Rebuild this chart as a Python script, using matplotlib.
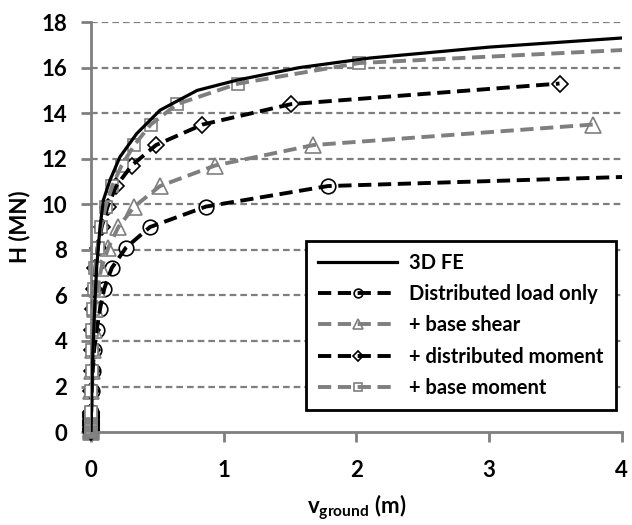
import matplotlib
matplotlib.use("Agg")
import matplotlib.pyplot as plt

# data
fe_x = [0, 0.002, 0.006, 0.015, 0.03, 0.043, 0.068, 0.093, 0.143, 0.218, 0.344, 0.52, 0.8, 1.1, 1.57, 2.1, 3.0, 4.0]
fe_y = [0, 0.6, 1.8, 3.6, 5.8, 7.26, 9.0, 10.18, 11.06, 12.08, 13.1, 14.13, 15.0, 15.45, 16.0, 16.42, 16.9, 17.3]

# first load steps, all sitting at v ~ 0
low_h = [0, 0.05, 0.1, 0.15, 0.2, 0.25, 0.3, 0.35, 0.4, 0.45, 0.5, 0.55, 0.6, 0.65, 0.7, 0.75, 0.8, 0.85, 0.9]
low_x = [0, 0, 0, 0, 0, 0, 0, 0, 0, 0, 0, 0, 0.001, 0.001, 0.001, 0.001, 0.001, 0.001, 0.001]

load_h = low_h + [1.8, 2.7, 3.6, 4.5, 5.4, 6.3, 7.2, 8.1, 9.0, 9.9, 10.8, 11.7]
load_x = low_x + [0.005, 0.013, 0.023, 0.043, 0.068, 0.10, 0.156, 0.264, 0.444, 0.866, 1.785, 6.8]

shear_h = low_h + [1.8, 2.7, 3.6, 4.5, 5.4, 6.3, 7.2, 8.1, 9.0, 9.9, 10.8, 11.7, 12.6, 13.5]
shear_x = low_x + [0.003, 0.007, 0.012, 0.02, 0.03, 0.048, 0.078, 0.131, 0.206, 0.326, 0.52, 0.934, 1.675, 3.78]

dmom_h = low_h + [1.8, 2.7, 3.6, 4.5, 5.4, 6.3, 7.2, 8.1, 9.0, 9.9, 10.8, 11.7, 12.6, 13.5, 14.4, 15.3]
dmom_x = low_x + [0.002, 0.004, 0.006, 0.01, 0.015, 0.022, 0.033, 0.05, 0.08, 0.125, 0.19, 0.306, 0.49, 0.84, 1.51, 3.53]

bmom_h = low_h + [1.8, 2.7, 3.6, 4.5, 5.4, 6.3, 7.2, 8.1, 9.0, 9.9, 10.8, 11.7, 12.6, 13.5, 14.4, 15.3, 16.2, 17.1]
bmom_x = low_x + [0.002, 0.004, 0.006, 0.01, 0.015, 0.022, 0.033, 0.05, 0.075, 0.11, 0.16, 0.23, 0.326, 0.45, 0.65, 1.11, 2.02, 5.15]

labels = ['3D FE', 'Distributed load only', '+ base shear', '+ distributed moment', '+ base moment']

plt.rcParams['font.family'] = ['Lato', 'DejaVu Sans']
plt.rcParams['font.weight'] = 'bold'
plt.rcParams['mathtext.default'] = 'regular'

grey = '#7f7f7f'
fig = plt.figure(figsize=(6.32, 5.25), dpi=100)
ax = fig.add_axes([0.144, 0.177, 0.840, 0.781])

for yv in range(2, 19, 2):
    ax.axhline(yv, color=grey, lw=1.6, dashes=(3, 1.8), zorder=0)

handles = []
h0, = ax.plot(fe_x, fe_y, color='black', lw=2.3, zorder=6)
handles.append(h0)

series = [
    (load_x, load_h, 'black', 'o', 10.5),
    (shear_x, shear_h, grey, '^', 11),
    (dmom_x, dmom_h, 'black', 'D', 8),
    (bmom_x, bmom_h, grey, 's', 9),
]
for i, (xs, ys, c, m, ms) in enumerate(series):
    # markers inside the x range, not clipped at the axis (like Excel)
    vis = [(x, y) for x, y in zip(xs, ys) if x <= 4]
    mk, = ax.plot([p[0] for p in vis], [p[1] for p in vis], ls='none', marker=m, ms=ms,
                  mfc='white', mec=c, mew=1.2, zorder=2 + i * 0.1, clip_on=False)
    ln, = ax.plot(xs, ys, color=c, lw=2.8, dashes=(3.4, 1.7), zorder=4 + i * 0.1)
    handles.append((mk, ln))

ax.set_xlim(0, 4)
ax.set_ylim(0, 18)
ax.set_xticks([0, 1, 2, 3, 4])
ax.set_yticks(range(0, 19, 2))
for s in ['top', 'right']:
    ax.spines[s].set_visible(False)
for s in ['left', 'bottom']:
    ax.spines[s].set_color(grey)
    ax.spines[s].set_linewidth(2)
ax.tick_params(axis='y', colors=grey, width=2, length=7, direction='out',
               labelsize=16, labelcolor='black', pad=10)
ax.tick_params(axis='x', colors=grey, width=2, length=7, direction='out',
               labelsize=16, labelcolor='black', pad=13)
for lab in ax.get_xticklabels() + ax.get_yticklabels():
    lab.set_fontweight('bold')

ax.set_ylabel('H (MN)', fontsize=16, fontweight='bold', labelpad=8)
ax.set_xlabel(r'$\mathregular{v_{ground}}$ (m)', fontsize=16, fontweight='bold', labelpad=8)

leg = ax.legend(handles, labels, loc='lower right', bbox_to_anchor=(0.988, 0.054), fontsize=14.5,
                frameon=True, fancybox=False, framealpha=1, edgecolor='black',
                markerscale=0.6, handlelength=3.9, handletextpad=0.6, borderpad=0.6,
                labelspacing=0.56, borderaxespad=0)
leg.get_frame().set_linewidth(2)
for t in leg.get_texts():
    t.set_fontweight('bold')

fig.savefig('out.png', dpi=100)
